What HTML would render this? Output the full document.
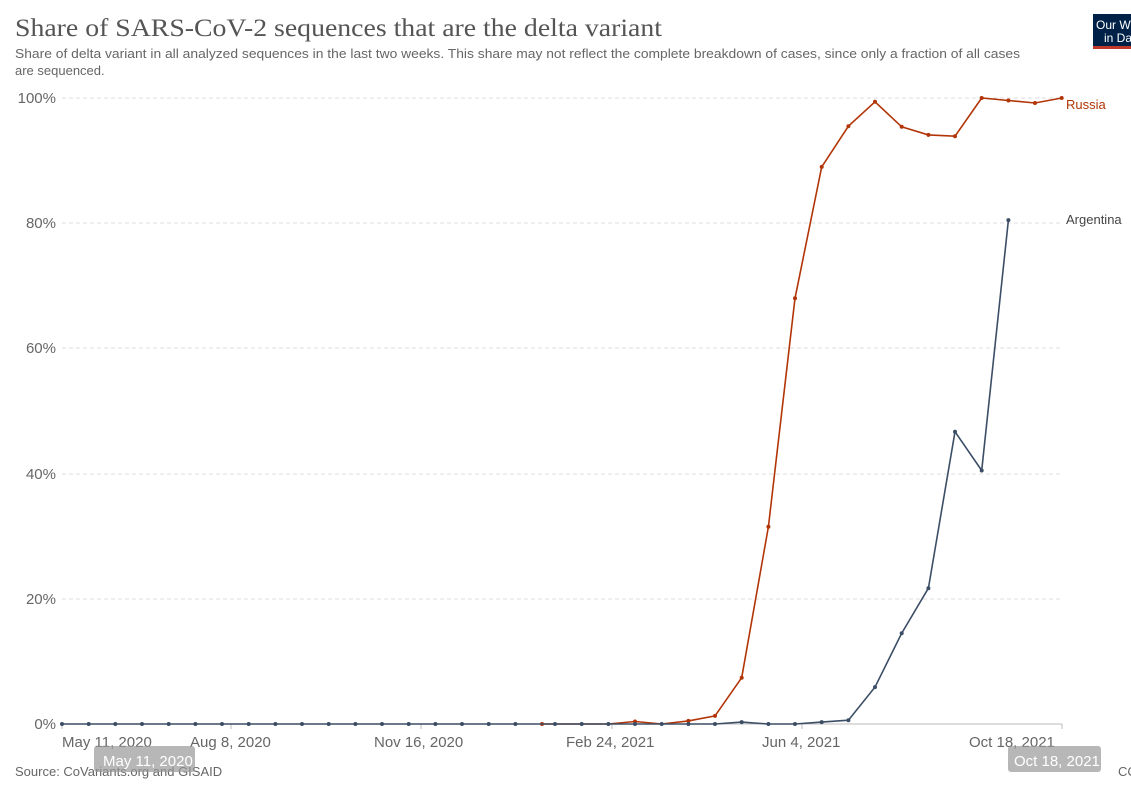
<!DOCTYPE html>
<html><head><meta charset="utf-8"><style>
body{margin:0;background:#fff;font-family:"Liberation Sans",sans-serif;}
</style></head><body>
<svg width="1131" height="781" viewBox="0 0 1131 781" xmlns="http://www.w3.org/2000/svg" font-family="Liberation Sans, sans-serif">
<text x="15" y="36" font-family="Liberation Serif, serif" font-size="25" fill="#555" textLength="647" lengthAdjust="spacingAndGlyphs">Share of SARS-CoV-2 sequences that are the delta variant</text>
<text x="15" y="58" font-size="13" fill="#666" textLength="1005" lengthAdjust="spacingAndGlyphs">Share of delta variant in all analyzed sequences in the last two weeks. This share may not reflect the complete breakdown of cases, since only a fraction of all cases</text>
<text x="15" y="75" font-size="13" fill="#666">are sequenced.</text>
<rect x="1093" y="14" width="38" height="32" fill="#002147"/>
<rect x="1093" y="46" width="38" height="3" fill="#c0392b"/>
<text x="1096" y="29" font-size="12" fill="#fff">Our W</text>
<text x="1104" y="42" font-size="12" fill="#fff">in Da</text>
<g stroke="#ddd" stroke-dasharray="4,3" stroke-width="1">
<line x1="62" x2="1062" y1="98" y2="98"/><line x1="62" x2="1062" y1="223" y2="223"/>
<line x1="62" x2="1062" y1="348" y2="348"/><line x1="62" x2="1062" y1="474" y2="474"/>
<line x1="62" x2="1062" y1="599" y2="599"/>
</g>
<g font-size="15" fill="#666" text-anchor="end">
<text x="56" y="103">100%</text><text x="56" y="228">80%</text><text x="56" y="353">60%</text>
<text x="56" y="479">40%</text><text x="56" y="604">20%</text><text x="56" y="729">0%</text>
</g>
<line x1="62" x2="1062" y1="724" y2="724" stroke="#bbb"/>
<g stroke="#bbb"><line x1="62" x2="62" y1="724" y2="729"/><line x1="231" x2="231" y1="724" y2="729"/><line x1="421" x2="421" y1="724" y2="729"/><line x1="612" x2="612" y1="724" y2="729"/><line x1="802" x2="802" y1="724" y2="729"/><line x1="1062" x2="1062" y1="724" y2="729"/></g>
<g font-size="15" fill="#666">
<text x="62" y="747">May 11, 2020</text><text x="190" y="747">Aug 8, 2020</text>
<text x="374" y="747">Nov 16, 2020</text><text x="566" y="747">Feb 24, 2021</text>
<text x="762" y="747">Jun 4, 2021</text><text x="969" y="747">Oct 18, 2021</text>
</g>
<text x="15" y="776" font-size="13" fill="#666">Source: CoVariants.org and GISAID</text>
<text x="1118" y="776" font-size="13" fill="#666">CC</text>

<polyline fill="none" stroke="#b13507" stroke-width="1.6" points="542,724 581.7,724 608.4,724 635,721.5 661.7,724 688.4,720.9 715,715.9 741.7,677.7 768.4,526.8 795,298.3 821.7,166.9 848.4,126.2 875,101.8 901.7,126.8 928.4,134.9 955,136.2 981.7,98 1008.4,100.5 1035,103 1061.7,98"/>
<g fill="#b13507">
<circle cx="542" cy="724" r="2"/><circle cx="635" cy="721.5" r="2"/><circle cx="688.4" cy="720.9" r="2"/><circle cx="715" cy="715.9" r="2"/><circle cx="741.7" cy="677.7" r="2"/><circle cx="768.4" cy="526.8" r="2"/><circle cx="795" cy="298.3" r="2"/><circle cx="821.7" cy="166.9" r="2"/><circle cx="848.4" cy="126.2" r="2"/><circle cx="875" cy="101.8" r="2"/><circle cx="901.7" cy="126.8" r="2"/><circle cx="928.4" cy="134.9" r="2"/><circle cx="955" cy="136.2" r="2"/><circle cx="981.7" cy="98" r="2"/><circle cx="1008.4" cy="100.5" r="2"/><circle cx="1035" cy="103" r="2"/><circle cx="1061.7" cy="98" r="2"/>
</g>
<polyline fill="none" stroke="#3c4e66" stroke-width="1.6" points="62,724 715,724 741.7,722.1 768.4,724 795,724 821.7,722.1 848.4,720.2 875,687.1 901.7,633.2 928.4,588.2 955,431.7 981.7,470.5 1008.4,220.1"/>
<g fill="#3c4e66">
<circle cx="62" cy="724" r="2"/><circle cx="88.7" cy="724" r="2"/><circle cx="115.3" cy="724" r="2"/><circle cx="142" cy="724" r="2"/><circle cx="168.7" cy="724" r="2"/><circle cx="195.4" cy="724" r="2"/><circle cx="222" cy="724" r="2"/><circle cx="248.7" cy="724" r="2"/><circle cx="275.4" cy="724" r="2"/><circle cx="302" cy="724" r="2"/><circle cx="328.7" cy="724" r="2"/><circle cx="355.4" cy="724" r="2"/><circle cx="382" cy="724" r="2"/><circle cx="408.7" cy="724" r="2"/><circle cx="435.4" cy="724" r="2"/><circle cx="462" cy="724" r="2"/><circle cx="488.7" cy="724" r="2"/><circle cx="515.4" cy="724" r="2"/><circle cx="555" cy="724" r="2"/><circle cx="581.7" cy="724" r="2"/><circle cx="608.4" cy="724" r="2"/><circle cx="635" cy="724" r="2"/><circle cx="661.7" cy="724" r="2"/><circle cx="688.4" cy="724" r="2"/><circle cx="715" cy="724" r="2"/><circle cx="741.7" cy="722.1" r="2"/><circle cx="768.4" cy="724" r="2"/><circle cx="795" cy="724" r="2"/><circle cx="821.7" cy="722.1" r="2"/><circle cx="848.4" cy="720.2" r="2"/><circle cx="875" cy="687.1" r="2"/><circle cx="901.7" cy="633.2" r="2"/><circle cx="928.4" cy="588.2" r="2"/><circle cx="955" cy="431.7" r="2"/><circle cx="981.7" cy="470.5" r="2"/><circle cx="1008.4" cy="220.1" r="2"/>
</g>

<rect x="94" y="746" width="101" height="26" rx="3" fill="#999" opacity="0.7"/>
<text x="103" y="766" font-size="15" fill="#fff">May 11, 2020</text>
<rect x="1008" y="746" width="93" height="26" rx="3" fill="#999" opacity="0.7"/>
<text x="1014" y="766" font-size="15" fill="#fff">Oct 18, 2021</text>
<text x="1066" y="109" font-size="13" fill="#b13507">Russia</text>
<text x="1066" y="224" font-size="13" fill="#444">Argentina</text>
</svg>
</body></html>
